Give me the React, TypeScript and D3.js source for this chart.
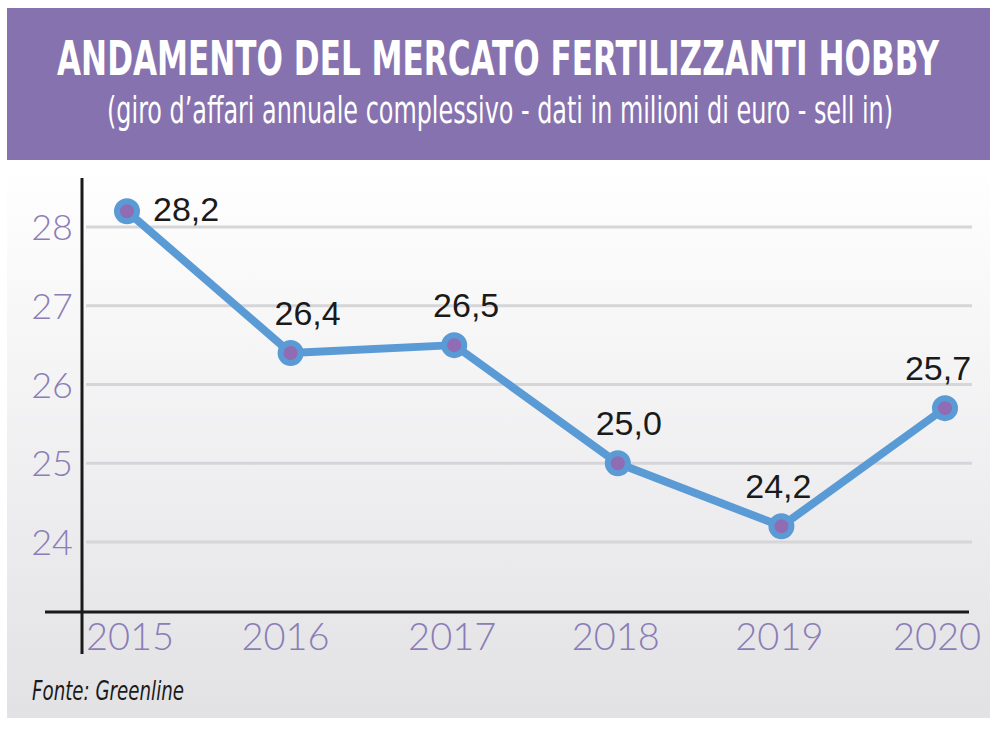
import React, { useEffect, useRef } from 'react';
import * as d3 from 'd3';

const years = ['2015', '2016', '2017', '2018', '2019', '2020'];
const values = [28.2, 26.4, 26.5, 25.0, 24.2, 25.7];
const yTicks = [24, 25, 26, 27, 28];

const title = 'ANDAMENTO DEL MERCATO FERTILIZZANTI HOBBY';
const subtitle = '(giro d\u2019affari annuale complessivo - dati in milioni di euro - sell in)';
const source = 'Fonte: Greenline';

export default function App() {
  const ref = useRef<SVGSVGElement>(null);

  useEffect(() => {
    const svg = d3.select(ref.current);
    svg.selectAll('*').remove();

    const defs = svg.append('defs');
    const grad = defs.append('linearGradient')
      .attr('id', 'bg').attr('x1', 0).attr('y1', 0).attr('x2', 0).attr('y2', 1);
    grad.append('stop').attr('offset', '0%').attr('stop-color', '#ffffff');
    grad.append('stop').attr('offset', '100%').attr('stop-color', '#e2e2e5');

    // panel
    svg.append('rect').attr('x', 7).attr('y', 163).attr('width', 983).attr('height', 555)
      .attr('fill', 'url(#bg)');
    svg.append('rect').attr('x', 7).attr('y', 8).attr('width', 983).attr('height', 152)
      .attr('fill', '#8772b0');

    // header texts: small font stretched vertically to get the condensed look
    svg.append('text')
      .attr('transform', 'translate(498,75) scale(1,1.4)')
      .attr('text-anchor', 'middle')
      .attr('font-family', '"Liberation Sans Narrow", "DejaVu Sans Condensed", sans-serif')
      .attr('font-weight', 'bold')
      .attr('font-size', 34)
      .attr('fill', '#ffffff')
      .attr('textLength', 882)
      .attr('lengthAdjust', 'spacingAndGlyphs')
      .text(title);

    svg.append('text')
      .attr('transform', 'translate(500,123) scale(1,1.4)')
      .attr('text-anchor', 'middle')
      .attr('font-family', '"Liberation Sans Narrow", "DejaVu Sans Condensed", sans-serif')
      .attr('font-size', 26)
      .attr('fill', '#ffffff')
      .attr('textLength', 786)
      .attr('lengthAdjust', 'spacingAndGlyphs')
      .text(subtitle);

    const x = d3.scalePoint<string>().domain(years).range([127, 945]);
    const y = d3.scaleLinear().domain([24, 28]).range([542, 227]);

    // grid
    svg.append('g').selectAll('line').data(yTicks).enter().append('line')
      .attr('x1', 86).attr('x2', 972)
      .attr('y1', d => y(d)).attr('y2', d => y(d))
      .attr('stroke', '#d6d6d8').attr('stroke-width', 3);

    // axes lines
    svg.append('line').attr('x1', 82).attr('x2', 82).attr('y1', 178).attr('y2', 654)
      .attr('stroke', '#1a1a1a').attr('stroke-width', 3);
    svg.append('line').attr('x1', 45).attr('x2', 969).attr('y1', 612).attr('y2', 612)
      .attr('stroke', '#1a1a1a').attr('stroke-width', 3);

    // y tick labels
    svg.append('g').selectAll('text').data(yTicks).enter().append('text')
      .attr('x', 73).attr('y', d => y(d) + 13)
      .attr('text-anchor', 'end')
      .attr('font-family', 'Lato, "DejaVu Sans", sans-serif')
      .attr('font-weight', 300)
      .attr('font-size', 36)
      .attr('fill', '#8b7db6')
      .text(d => d);

    // x tick labels
    const xOff = [3, -5, -2, -2, -2, -8];
    svg.append('g').selectAll('text').data(years).enter().append('text')
      .attr('x', (d, i) => (x(d) as number) + xOff[i]).attr('y', 650)
      .attr('text-anchor', 'middle')
      .attr('font-family', 'Lato, "DejaVu Sans", sans-serif')
      .attr('font-weight', 300)
      .attr('font-size', 38)
      .attr('fill', '#8b7db6')
      .text(d => d);

    const data = years.map((yr, i) => ({ yr, v: values[i] }));

    const line = d3.line<{ yr: string; v: number }>()
      .x(d => x(d.yr) as number)
      .y(d => y(d.v));

    svg.append('path').datum(data)
      .attr('d', line)
      .attr('fill', 'none')
      .attr('stroke', '#5b9bd5')
      .attr('stroke-width', 8)
      .attr('stroke-linejoin', 'round');

    svg.append('g').selectAll('circle').data(data).enter().append('circle')
      .attr('cx', d => x(d.yr) as number).attr('cy', d => y(d.v))
      .attr('r', 10)
      .attr('fill', '#8f6cb4')
      .attr('stroke', '#5b9bd5')
      .attr('stroke-width', 6);

    // value labels
    const lblOff = [26, 17, 12, 11, -3, -7];
    svg.append('g').selectAll('text').data(data).enter().append('text')
      .attr('x', (d, i) => (x(d.yr) as number) + lblOff[i])
      .attr('y', (d, i) => i === 0 ? y(d.v) + 10 : y(d.v) - 28)
      .attr('text-anchor', (d, i) => i === 0 ? 'start' : 'middle')
      .attr('font-family', '"Liberation Sans", Arial, sans-serif')
      .attr('font-size', 34)
      .attr('fill', '#1a1a1a')
      .text(d => d.v.toFixed(1).replace('.', ','));

    svg.append('text')
      .attr('x', 32).attr('y', 700)
      .attr('font-family', '"Liberation Sans Narrow", "DejaVu Sans Condensed", sans-serif')
      .attr('font-style', 'italic')
      .attr('font-size', 27)
      .attr('fill', '#1a1a1a')
      .attr('textLength', 152)
      .attr('lengthAdjust', 'spacingAndGlyphs')
      .text(source);
  }, []);

  return (
    <svg ref={ref} width={1000} height={733}
      style={{ position: 'absolute', left: 0, top: 0, background: '#ffffff' }} />
  );
}
